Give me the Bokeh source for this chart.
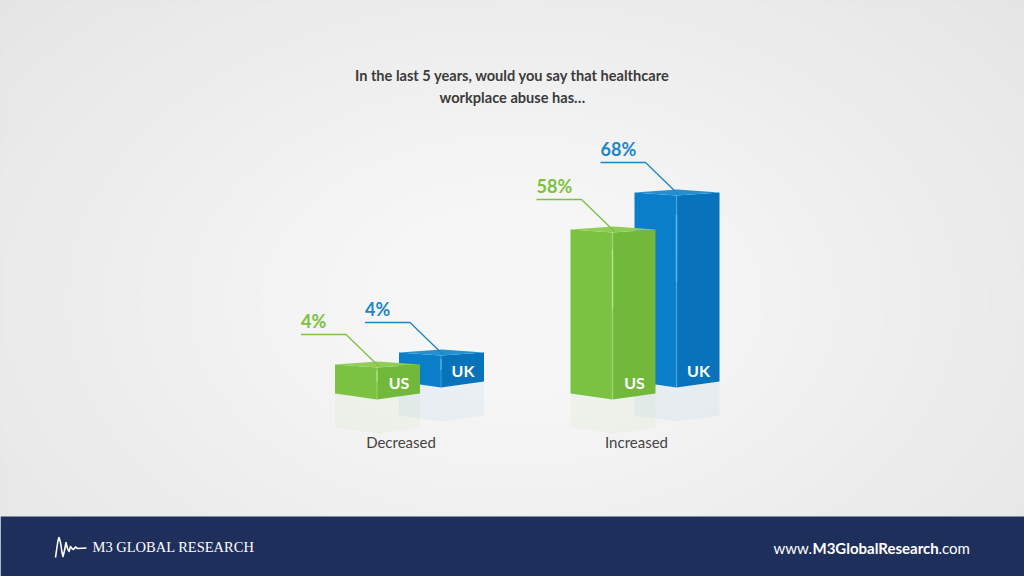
from bokeh.plotting import figure
from bokeh.models import Range1d
from bokeh.core.properties import value
from bokeh.embed import file_html
from bokeh.resources import INLINE

# ---------------- data ----------------
categories = ["Decreased", "Increased"]
series = ["US", "UK"]
us_values = [4, 58]
uk_values = [4, 68]
title_lines = ["In the last 5 years, would you say that healthcare",
               "workplace abuse has\u2026"]

# ---------------- style ----------------
GREEN = dict(left="#7bc142", right="#72b83b", top="#8fcd55", text="#7bc142", hi="#c6ef9a")
BLUE = dict(left="#0a7ec8", right="#0873bb", top="#2390d4", text="#1b86c8", hi="#63d0f5")
W, H = 1024, 576
PX_PER_CAT = 235.5      # horizontal pixels per category step
PX_PER_PCT = 2.5        # vertical pixels per percentage point
CAT0_PX = 409.5         # pixel x of first category centre
ZERO_PX = 377           # pixel y (from top) of value 0

X0 = -CAT0_PX / PX_PER_CAT
X1 = X0 + W / PX_PER_CAT
Y1 = ZERO_PX / PX_PER_PCT
Y0 = Y1 - H / PX_PER_PCT


def dx(px):
    return px / PX_PER_CAT


def dy(px):
    return px / PX_PER_PCT


def X(px):
    return X0 + px / PX_PER_CAT


def Y(py):
    return Y1 - py / PX_PER_PCT


p = figure(width=W, height=H, x_range=Range1d(X0, X1), y_range=Range1d(Y0, Y1),
           output_backend="svg", toolbar_location=None, min_border=0)
p.axis.visible = False
p.grid.visible = False
p.outline_line_color = None
p.background_fill_color = "#e2e2e2"
p.border_fill_color = "#e2e2e2"

# soft radial background
N = 36
for k in range(N):
    t = k / (N - 1)
    g = int(round(0xe3 + (0xf6 - 0xe3) * t))
    col = "#%02x%02x%02x" % (g, g, g)
    p.ellipse(x=X(512), y=Y(300), width=dx(1500 - 1200 * t), height=dy(1000 - 800 * t),
              fill_color=col, line_color=None)

# ---------------- bars ----------------
geom = {
    "US": dict(off=-33, lift=0, c=GREEN),
    "UK": dict(off=31, lift=12, c=BLUE),
}
vals = {"US": us_values, "UK": uk_values}

for name in ["UK", "US"]:   # back row first
    g = geom[name]
    c = g["c"]
    for i, cat in enumerate(categories):
        v = vals[name][i]
        xm = i + dx(g["off"])
        xl = xm - dx(42)
        xr = xm + dx(43)
        lift = dy(g["lift"])
        tf = v + lift
        ts = tf + dy(3)
        bf = -dy(22) + lift
        bs = bf + dy(6)
        bx = xl + xr - xm
        by = tf + dy(6)
        # reflection
        p.patches(xs=[[xl, xm, xm, xl], [xm, xr, xr, xm]],
                  ys=[[bs, bf, bf - dy(34), bs - dy(34)], [bf, bs, bs - dy(34), bf - dy(34)]],
                  fill_color=c["left"], fill_alpha=0.05, line_color=None)
        # faces
        p.patch(x=[xl, xm, xm, xl], y=[ts, tf, bf, bs], fill_color=c["left"], line_color=None)
        p.patch(x=[xm, xr, xr, xm], y=[tf, ts, bs, bf], fill_color=c["right"], line_color=None)
        p.patch(x=[xl, xm, xr, bx], y=[ts, tf, ts, by], fill_color=c["top"], line_color=None)
        # edge highlight
        p.line(x=[xm, xm], y=[tf, bf], line_color=c["hi"], line_alpha=0.3, line_width=1.5)
        mid_top = tf - (tf - bf) * 0.1
        mid_bot = tf - (tf - bf) * 0.45
        p.line(x=[xm, xm], y=[mid_top, mid_bot], line_color=c["hi"], line_alpha=0.55, line_width=1.5)
        # series label on the bar
        p.text(x=[xm + dx(22)], y=[bf + dy(17)], text=[name], text_color="white",
               text_font=value("Lato"), text_font_style="bold", text_font_size="16px",
               text_align="center", text_baseline="middle")
        # leader line and value label
        ly = tf + dy(33)
        p.line(x=[xm - dx(76), xm - dx(31), xm + dx(2)], y=[ly, ly, tf + dy(1)],
               line_color=c["text"], line_width=1.3)
        p.text(x=[xm - dx(76)], y=[ly + dy(3)], text=["%d%%" % v], text_color=c["text"],
               text_font=value("Lato"), text_font_style="bold", text_font_size="18px",
               text_align="left", text_baseline="bottom")

# category labels
p.text(x=[i - dx(9) for i in range(len(categories))], y=[-dy(64)] * len(categories),
       text=categories, text_color="#444444", text_font=value("Lato"),
       text_font_size="15px", text_align="center", text_baseline="middle")

# title
p.text(x=[X(512)] * 2, y=[Y(75), Y(97)], text=title_lines, text_color="#3b3b3b",
       text_font=value("Lato"), text_font_style="bold", text_font_size="14.6px",
       text_align="center", text_baseline="middle")

# ---------------- footer ----------------
p.quad(left=X(0), right=X(W), top=Y(516), bottom=Y(H + 2), fill_color="#1f2f5c", line_color=None)
logo_px = [(55, 557), (56, 550), (57.5, 540), (58.5, 537), (60, 542), (61.5, 552), (62.5, 556),
           (64, 550), (65.5, 542), (67, 548), (68.5, 551), (70, 546), (71.5, 548), (73, 549),
           (75, 546.5), (77, 548), (86, 547.5)]
p.line(x=[X(a) for a, b in logo_px], y=[Y(b) for a, b in logo_px], line_color="white",
       line_width=1.6, line_join="round")
p.text(x=[X(92)], y=[Y(546)], text=["M3  GLOBAL RESEARCH"], text_color="white",
       text_font=value("Liberation Serif"), text_font_size="14.5px",
       text_align="left", text_baseline="middle")
p.text(x=[X(773)], y=[Y(547)], text=["www."], text_color="white",
       text_font=value("Lato"), text_font_size="15px", text_align="left", text_baseline="middle")
p.text(x=[X(812)], y=[Y(547)], text=["M3GlobalResearch"], text_color="white",
       text_font=value("Lato"), text_font_style="bold", text_font_size="15px",
       text_align="left", text_baseline="middle")
p.text(x=[X(938)], y=[Y(547)], text=[".com"], text_color="white",
       text_font=value("Lato"), text_font_size="15px", text_align="left", text_baseline="middle")

open("out.html", "w").write(file_html(p, INLINE))
